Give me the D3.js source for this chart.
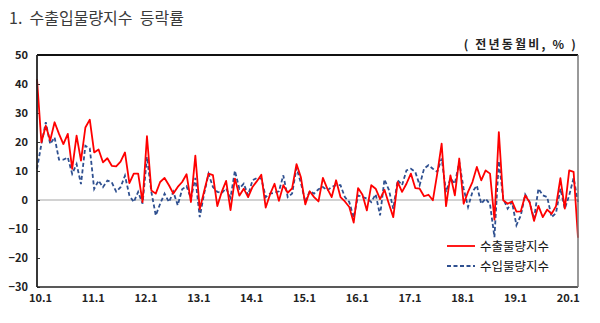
<!DOCTYPE html>
<html>
<head>
<meta charset="utf-8">
<script src="https://cdn.jsdelivr.net/npm/d3@7/dist/d3.min.js"></script>
<style>
  html, body { margin: 0; padding: 0; background: #fff; }
  svg { display: block; }
  .tick text { font-family: "Noto Sans CJK KR", "Noto Sans", sans-serif; font-weight: 700; font-size: 11px; fill: #222; }
</style>
</head>
<body>
<svg id="chart" width="600" height="323"></svg>
<script>
// Monthly series, 2010.1 – 2020.4 (year-on-year change, %)
const startYear = 2010;
const monthCount = 124;

const exportVolume = [
  41.7, 19.9, 25.6, 20.5, 26.8, 22.8, 19.3, 22.8, 10.7, 22.2, 13.6, 25.0,
  27.7, 16.4, 17.4, 13.0, 14.4, 11.8, 11.6, 13.2, 16.4, 5.8, 9.1, 9.1,
  -0.7, 22.0, 3.3, 2.2, 6.2, 7.6, 5.1, 2.2, 4.5, 6.2, 8.9, -0.7,
  15.3, -3.2, 3.0, 9.1, 8.6, -2.1, 2.8, 6.6, -3.5, 7.4, 1.5, 3.9,
  1.0, 4.5, 6.5, 8.7, -2.6, 2.0, 5.6, -0.3, 5.1, 2.5, 4.0, 12.4,
  7.8, -1.5, 3.0, 1.0, -0.5, 7.6, 3.9, 1.0, 6.8, 1.0, -0.5, -2.4,
  -7.8, 4.1, 1.8, -3.6, 5.1, 3.9, 0.3, 3.5, -1.3, -5.9, 6.2, 2.8,
  5.6, 9.1, 4.1, 3.9, 1.3, 1.8, -0.1, 9.1, 19.4, -2.1, 8.5, 1.6,
  14.3, -1.3, 2.8, 6.2, 11.4, 6.8, 10.2, 9.1, -6.8, 23.4, -0.1, -1.3,
  -0.5, -4.0, -3.9, 1.6, -0.8, -7.2, -2.0, -5.9, -3.3, -4.8, -2.1, 7.5,
  -3.0, 10.2, 9.7, -13.0
];

const importVolume = [
  10.7, 19.3, 26.8, 19.3, 21.6, 13.9, 13.9, 14.7, 9.0, 12.4, 5.5, 18.7,
  17.8, 3.8, 6.7, 4.4, 6.7, 6.1, 2.9, 4.4, 8.4, 1.6, -0.7, 2.8,
  -1.3, 14.8, 2.8, -5.3, -1.3, 2.2, -0.7, 2.8, -1.8, 3.7, 4.8, 0.5,
  7.6, -5.9, 2.2, 9.0, 4.5, 2.8, 2.4, 4.0, 0.8, 10.1, 3.9, 5.6,
  1.6, 6.8, 7.6, 7.4, 1.0, 2.2, 2.5, 3.0, 8.5, 1.0, 2.2, 11.1,
  5.9, -0.7, 3.0, 2.2, 3.7, 4.5, 3.3, 4.5, 5.1, 5.1, 1.0, -0.7,
  -6.1, 1.6, 1.0, 0.5, -0.7, 2.0, -5.3, 7.1, 3.5, -3.0, 6.8, 5.1,
  10.2, 10.8, 9.7, 5.1, 10.8, 12.0, 10.8, 9.7, 14.3, 2.8, 7.4, 5.6,
  13.1, 3.9, -2.4, 2.8, 5.0, -1.3, 0.5, -1.5, -12.8, 13.4, 0.5, -3.0,
  -0.7, -8.7, -5.3, 1.9, -0.7, -6.5, 3.9, 1.6, 1.0, -5.9, -4.5, 3.9,
  -3.0, 1.6, 7.6, -0.7
];

const yTicks = [50, 40, 30, 20, 10, 0, -10, -20, -30];
const xTickLabels = ["10.1", "11.1", "12.1", "13.1", "14.1", "15.1", "16.1", "17.1", "18.1", "19.1", "20.1"];
const seriesNames = ["수출물량지수", "수입물량지수"];

// Category keys "YY.M" for every month
const months = d3.range(monthCount).map(i => {
  const y = startYear + Math.floor(i / 12);
  return String(y % 100).padStart(2, "0") + "." + (i % 12 + 1);
});

const svg = d3.select("#chart");
const plot = { left: 37, right: 578, top: 55, bottom: 287 };

const x = d3.scalePoint().domain(months).range([plot.left, plot.right]);
const y = d3.scaleLinear().domain([-30, 50]).range([plot.bottom, plot.top]);

// Title
svg.append("text")
  .attr("x", 9).attr("y", 24)
  .attr("font-family", "'Noto Sans CJK KR', sans-serif")
  .attr("font-size", 16).attr("fill", "#3a3a3a")
  .style("white-space", "pre")
  .text("1.  수출입물량지수  등락률");

// Unit note
svg.append("text")
  .attr("x", 578).attr("y", 49)
  .attr("text-anchor", "end")
  .attr("font-family", "'Noto Sans CJK KR', sans-serif")
  .attr("font-weight", 700)
  .attr("font-size", 12).attr("fill", "#222")
  .attr("letter-spacing", 2.2)
  .style("white-space", "pre")
  .text("( 전년동월비, % )");

// Zero line
svg.append("line")
  .attr("x1", plot.left).attr("x2", plot.right)
  .attr("y1", y(0)).attr("y2", y(0))
  .attr("stroke", "#a6a6a6").attr("stroke-width", 1.2);

// Y axis with inward ticks
const yAxis = svg.append("g")
  .attr("transform", `translate(${plot.left},0)`)
  .call(d3.axisLeft(y).tickValues(yTicks).tickSizeInner(-3).tickSizeOuter(0).tickPadding(9));
yAxis.select(".domain").remove();
yAxis.selectAll(".tick line").attr("stroke", "#333");

// X axis labels at each January
const xAxis = svg.append("g")
  .attr("transform", `translate(3,${plot.bottom})`)
  .call(d3.axisBottom(x)
    .tickValues(xTickLabels)
    .tickSize(0).tickPadding(7));
xAxis.select(".domain").remove();

// Lines
const line = d3.line()
  .x((d, i) => x(months[i]))
  .y(d => y(d));

svg.append("path")
  .datum(importVolume)
  .attr("d", line)
  .attr("fill", "none")
  .attr("stroke", "#2f5090")
  .attr("stroke-width", 1.8)
  .attr("stroke-dasharray", "4,2.5");

svg.append("path")
  .datum(exportVolume)
  .attr("d", line)
  .attr("fill", "none")
  .attr("stroke", "#ff0000")
  .attr("stroke-width", 1.8)
  .attr("stroke-linejoin", "round");

// Frame
svg.append("line").attr("x1", plot.left).attr("x2", plot.right).attr("y1", plot.top).attr("y2", plot.top)
  .attr("stroke", "#111").attr("stroke-width", 2);
svg.append("line").attr("x1", plot.left).attr("x2", plot.right).attr("y1", plot.bottom).attr("y2", plot.bottom)
  .attr("stroke", "#222").attr("stroke-width", 1.5);
svg.append("line").attr("x1", plot.left).attr("x2", plot.left).attr("y1", plot.top).attr("y2", plot.bottom)
  .attr("stroke", "#222").attr("stroke-width", 1.8);
svg.append("line").attr("x1", plot.right).attr("x2", plot.right).attr("y1", plot.top).attr("y2", plot.bottom)
  .attr("stroke", "#777").attr("stroke-width", 1.5);

// Legend
const legend = svg.append("g").attr("transform", "translate(447,246)");
const legendStyles = [
  { stroke: "#ff0000", dash: null },
  { stroke: "#2f5090", dash: "4,2.5" }
];
seriesNames.forEach((name, i) => {
  const row = legend.append("g").attr("transform", `translate(0,${i * 20})`);
  row.append("line")
    .attr("x1", 0).attr("x2", 28).attr("y1", 0).attr("y2", 0)
    .attr("stroke", legendStyles[i].stroke).attr("stroke-width", 1.8)
    .attr("stroke-dasharray", legendStyles[i].dash);
  row.append("text")
    .attr("x", 33).attr("y", 4.5)
    .attr("font-family", "'Noto Sans CJK KR', sans-serif")
    .attr("font-size", 12.5).attr("fill", "#111")
    .text(name);
});
</script>
</body>
</html>
